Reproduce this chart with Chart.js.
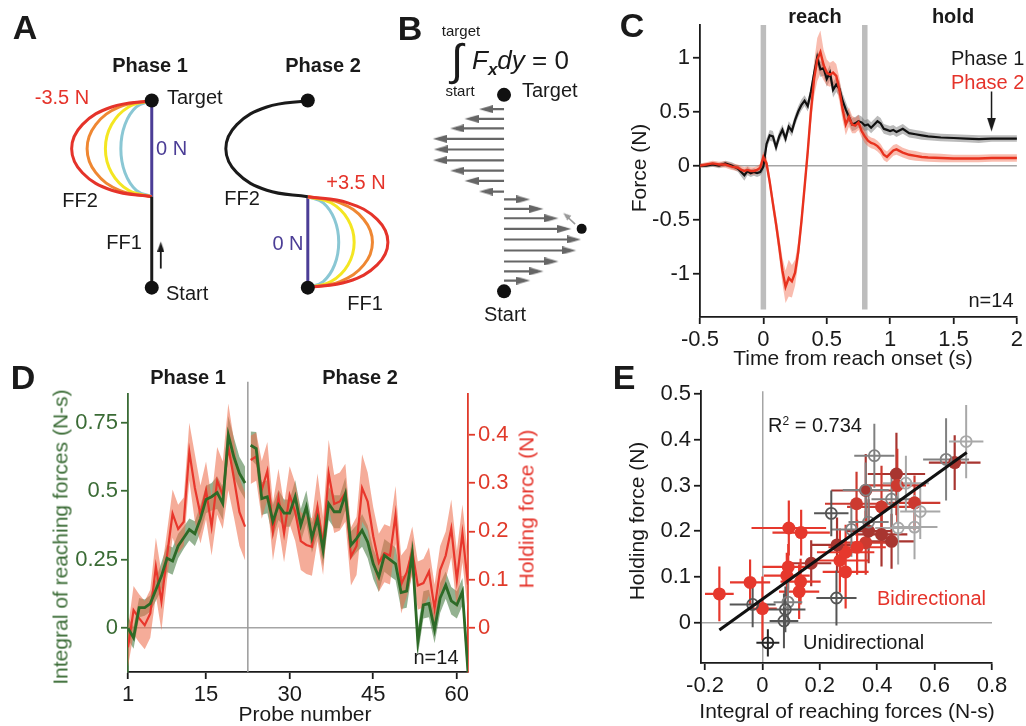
<!DOCTYPE html>
<html>
<head>
<meta charset="utf-8">
<title>Reaching and holding forces</title>
<script src="https://cdn.jsdelivr.net/npm/chart.js@4.4.1/dist/chart.umd.min.js"></script>
<style>
  body { margin: 0; background: #fff; }
  #figure { position: relative; width: 1026px; height: 726px; overflow: hidden; background: #fff;
    font-family: "Liberation Sans", Arial, sans-serif; color: #1a1a1a; }
  #figure canvas { position: absolute; }
  .txt { position: absolute; white-space: nowrap; font-size: 20px; line-height: 1; transform: translate(-50%, -50%); }
  .left { transform: translate(0, -50%); }
  .vert { transform: translate(-50%, -50%) rotate(-90deg); font-size: 21px; }
  .bold { font-weight: bold; }
  .panel { font-size: 34px; font-weight: bold; }
  .red { color: #e5332a; }
  .violet { color: #4b3d96; }
  .green { color: #3a6b35; }
</style>
</head>
<body>
<div id="figure">
  <canvas id="panelA" width="400" height="330" style="left:0;top:0"></canvas>
  <canvas id="panelB" width="220" height="330" style="left:380px;top:0"></canvas>
  <canvas id="panelC" width="426" height="370" style="left:600px;top:0"></canvas>
  <canvas id="panelD" width="500" height="351" style="left:40px;top:375px"></canvas>
  <canvas id="panelE" width="406" height="351" style="left:620px;top:375px"></canvas>

  <!-- panel letters -->
  <div class="txt panel" style="left:25px;top:27px">A</div>
  <div class="txt panel" style="left:410px;top:28px">B</div>
  <div class="txt panel" style="left:632px;top:25px">C</div>
  <div class="txt panel" style="left:23px;top:377px">D</div>
  <div class="txt panel" style="left:624px;top:377px">E</div>

  <!-- A -->
  <div class="txt bold" style="left:150px;top:65px">Phase 1</div>
  <div class="txt bold" style="left:323px;top:65px">Phase 2</div>
  <div class="txt red" style="left:62px;top:97px">-3.5 N</div>
  <div class="txt left" style="left:167px;top:97px">Target</div>
  <div class="txt left violet" style="left:156px;top:148px">0 N</div>
  <div class="txt" style="left:80px;top:200px">FF2</div>
  <div class="txt" style="left:124px;top:242px">FF1</div>
  <div class="txt left" style="left:166px;top:293px">Start</div>
  <div class="txt" style="left:242px;top:198px">FF2</div>
  <div class="txt red" style="left:356px;top:182px">+3.5 N</div>
  <div class="txt violet" style="left:288px;top:243px">0 N</div>
  <div class="txt" style="left:365px;top:303px">FF1</div>

  <!-- B -->
  <div class="txt" style="left:461px;top:30px;font-size:15px">target</div>
  <div class="txt" style="left:457px;top:60px;font-size:44px">&#8747;</div>
  <div class="txt left" style="left:472px;top:60px;font-size:26px"><i>F</i><i style="font-size:17px;font-weight:bold;position:relative;top:6px">x</i><i>dy</i> = 0</div>
  <div class="txt" style="left:460px;top:90px;font-size:15px">start</div>
  <div class="txt left" style="left:522px;top:90px">Target</div>
  <div class="txt" style="left:505px;top:314px">Start</div>

  <!-- C -->
  <div class="txt bold" style="left:815px;top:16px">reach</div>
  <div class="txt bold" style="left:953px;top:16px">hold</div>
  <div class="txt left" style="left:951px;top:58px">Phase 1</div>
  <div class="txt left red" style="left:951px;top:82px">Phase 2</div>
  <div class="txt" style="left:991px;top:300px">n=14</div>
  <div class="txt vert" style="left:638px;top:168px">Force (N)</div>
  <div class="txt" style="left:853px;top:357px;font-size:21px">Time from reach onset (s)</div>

  <!-- D -->
  <div class="txt bold" style="left:188px;top:377px">Phase 1</div>
  <div class="txt bold" style="left:360px;top:377px">Phase 2</div>
  <div class="txt vert green" style="left:60px;top:537px">Integral of reaching forces (N-s)</div>
  <div class="txt vert red" style="left:526px;top:509px">Holding force (N)</div>
  <div class="txt" style="left:436px;top:657px">n=14</div>
  <div class="txt" style="left:305px;top:713px;font-size:21px">Probe number</div>

  <!-- E -->
  <div class="txt vert" style="left:636px;top:521px">Holding force (N)</div>
  <div class="txt" style="left:847px;top:710px;font-size:21px">Integral of reaching forces (N-s)</div>
  <div class="txt left" style="left:768px;top:425px">R<sup style="font-size:12px">2</sup> = 0.734</div>
  <div class="txt left red" style="left:877px;top:598px">Bidirectional</div>
  <div class="txt left" style="left:803px;top:642px">Unidirectional</div>
</div>

<script>
// ── DATA ──────────────────────────────────────────────────────────────────────

// A: force-field schematic, units = start-to-target distance
const fieldBulge = [0, 0.164, 0.246, 0.343, 0.425];          // 0 N ... 3.5 N
const fieldColors = ["#4b3d96", "#8ac7d4", "#f4e622", "#ef8732", "#e5332a"];
const arcU = [0, 0.5, 0.866, 1, 0.866, 0.5, 0];
const arcV = [1, 0.933, 0.75, 0.5, 0.25, 0.067, 0];
const ffBoundary = 0.486;
const phase2Offset = 0.828;
const phase2LearnedBulge = 0.435;

// B: lateral force profile along the reach
const profileY = [0.927, 0.878, 0.829, 0.776, 0.722, 0.667, 0.614, 0.562, 0.508,
  0.468, 0.42, 0.372, 0.318, 0.264, 0.208, 0.152, 0.102, 0.055];
const profileFx = [-0.13, -0.205, -0.28, -0.37, -0.365, -0.37, -0.28, -0.205, -0.13,
  0.136, 0.205, 0.283, 0.35, 0.40, 0.375, 0.283, 0.205, 0.136];

// C: force traces
const timeC = [-0.5, -0.45, -0.4, -0.35, -0.3, -0.25, -0.2, -0.175, -0.15, -0.125, -0.1, -0.075, -0.05, -0.025,
  0, 0.025, 0.05, 0.075, 0.1, 0.125, 0.15, 0.175, 0.2, 0.225, 0.25, 0.275, 0.3, 0.325, 0.35, 0.375, 0.4, 0.425, 0.45, 0.475,
  0.5, 0.525, 0.55, 0.575, 0.6, 0.625, 0.65, 0.675, 0.7, 0.725, 0.75, 0.775, 0.8, 0.825, 0.85, 0.875, 0.9, 0.925, 0.95, 0.975,
  1, 1.025, 1.05, 1.1, 1.15, 1.2, 1.25, 1.3, 1.4, 1.5, 1.6, 1.7, 1.8, 1.9, 2];
const phase1Force = [0, 0, 0.01, 0, 0.02, 0, -0.03, -0.06, -0.09, -0.05, -0.07, -0.06, -0.07, -0.06,
  -0.01, 0.2, 0.28, 0.27, 0.17, 0.27, 0.33, 0.25, 0.36, 0.32, 0.42, 0.5, 0.56, 0.6, 0.55, 0.68, 0.85, 1.0, 0.89, 0.9,
  0.8, 0.86, 0.7, 0.75, 0.71, 0.6, 0.52, 0.45, 0.38, 0.39, 0.41, 0.4, 0.37, 0.38, 0.35, 0.38, 0.41, 0.39, 0.34, 0.33,
  0.32, 0.33, 0.31, 0.34, 0.3, 0.29, 0.28, 0.27, 0.26, 0.255, 0.25, 0.245, 0.25, 0.25, 0.25];
const phase1Sem = [0.02, 0.02, 0.02, 0.025, 0.025, 0.03, 0.03, 0.04, 0.05, 0.04, 0.035, 0.035, 0.035, 0.035,
  0.04, 0.05, 0.05, 0.05, 0.05, 0.05, 0.05, 0.05, 0.05, 0.05, 0.05, 0.05, 0.05, 0.05, 0.05, 0.06, 0.06, 0.07, 0.07, 0.07,
  0.07, 0.07, 0.07, 0.07, 0.07, 0.07, 0.07, 0.06, 0.06, 0.06, 0.06, 0.055, 0.05, 0.05, 0.05, 0.05, 0.05, 0.05, 0.045, 0.045,
  0.045, 0.045, 0.045, 0.045, 0.04, 0.04, 0.04, 0.035, 0.035, 0.035, 0.035, 0.035, 0.03, 0.03, 0.03];
const phase2Force = [0, 0.01, 0.02, 0.01, 0.01, -0.01, -0.02, -0.04, -0.05, -0.04, -0.05, -0.05, -0.04, -0.02,
  0.08, 0.02, -0.15, -0.35, -0.54, -0.75, -0.97, -1.12, -1.04, -1.07, -0.99, -0.8, -0.52, -0.2, 0.13, 0.5, 0.8, 0.98, 1.05, 0.93,
  0.86, 0.84, 0.86, 0.83, 0.7, 0.52, 0.38, 0.45, 0.38, 0.37, 0.4, 0.32, 0.27, 0.23, 0.21, 0.2, 0.18, 0.15, 0.1, 0.08,
  0.11, 0.14, 0.15, 0.12, 0.1, 0.09, 0.08, 0.075, 0.07, 0.065, 0.065, 0.065, 0.07, 0.07, 0.07];
const phase2Sem = [0.02, 0.02, 0.025, 0.025, 0.03, 0.03, 0.03, 0.035, 0.035, 0.035, 0.035, 0.035, 0.035, 0.04,
  0.05, 0.06, 0.06, 0.07, 0.08, 0.1, 0.12, 0.15, 0.17, 0.15, 0.12, 0.1, 0.09, 0.09, 0.1, 0.12, 0.16, 0.2, 0.2, 0.14,
  0.12, 0.11, 0.11, 0.11, 0.11, 0.1, 0.1, 0.09, 0.08, 0.07, 0.07, 0.06, 0.06, 0.05, 0.05, 0.05, 0.05, 0.05, 0.05, 0.05,
  0.05, 0.05, 0.05, 0.045, 0.045, 0.045, 0.04, 0.04, 0.04, 0.035, 0.035, 0.035, 0.035, 0.035, 0.035];
const reachEpoch = [0, 0.8];
const xTicksC = [-0.5, 0, 0.5, 1, 1.5, 2];
const yTicksC = [-1, -0.5, 0, 0.5, 1];

// D: per-probe integral of reaching force and holding force
const probeNumbers = Array.from({ length: 62 }, (_, i) => i + 1);
const phaseBreak = 22.5;
const reachIntegral = [0.0, -0.035, 0.075, 0.075, 0.09, 0.14, 0.19, 0.255, 0.245, 0.30, 0.33, 0.36, 0.345, 0.40, 0.47, 0.48, 0.495, 0.455, 0.705, 0.625, 0.565, 0.53,
  0.668, 0.656, 0.473, 0.48, 0.39, 0.45, 0.42, 0.42, 0.48, 0.376, 0.443, 0.33, 0.40, 0.285, 0.455, 0.425, 0.425, 0.49, 0.303, 0.327, 0.357, 0.315, 0.235, 0.187,
  0.266, 0.25, 0.235, 0.13, 0.135, 0.272, -0.05, 0.085, 0.09, -0.005, 0.11, 0.157, 0.1, 0.085, 0.133, -0.16];
const reachIntegralSem = [0.04, 0.04, 0.035, 0.03, 0.03, 0.04, 0.05, 0.05, 0.05, 0.045, 0.04, 0.04, 0.045, 0.05, 0.05, 0.05, 0.06, 0.06, 0.07, 0.07, 0.06, 0.06,
  0.05, 0.06, 0.06, 0.06, 0.06, 0.055, 0.05, 0.05, 0.06, 0.06, 0.06, 0.055, 0.06, 0.06, 0.06, 0.06, 0.06, 0.06, 0.05, 0.05, 0.06, 0.06, 0.055, 0.055,
  0.06, 0.06, 0.06, 0.06, 0.06, 0.06, 0.05, 0.05, 0.05, 0.05, 0.055, 0.05, 0.05, 0.05, 0.05, 0.05];
const holdingForce = [-0.04, 0.037, 0.02, 0.006, 0.03, 0.127, 0.055, 0.15, 0.237, 0.205, 0.22, 0.365, 0.29, 0.235, 0.285, 0.21, 0.305, 0.275, 0.375, 0.31, 0.24, 0.21,
  0.348, 0.355, 0.286, 0.325, 0.2, 0.27, 0.196, 0.275, 0.24, 0.18, 0.172, 0.168, 0.25, 0.17, 0.32, 0.257, 0.262, 0.28, 0.148, 0.17, 0.29, 0.262, 0.19, 0.135,
  0.155, 0.15, 0.234, 0.09, 0.115, 0.16, 0.088, 0.093, 0.117, 0.04, 0.12, 0.15, 0.206, 0.1, 0.196, 0.09];
const holdingForceSem = [0.04, 0.05, 0.05, 0.05, 0.05, 0.06, 0.06, 0.05, 0.05, 0.05, 0.05, 0.06, 0.07, 0.06, 0.06, 0.06, 0.07, 0.07, 0.09, 0.08, 0.07, 0.07,
  0.05, 0.05, 0.06, 0.06, 0.06, 0.06, 0.06, 0.06, 0.06, 0.06, 0.06, 0.06, 0.07, 0.06, 0.07, 0.06, 0.06, 0.06, 0.06, 0.06, 0.07, 0.06, 0.06, 0.06,
  0.06, 0.06, 0.06, 0.06, 0.05, 0.05, 0.05, 0.05, 0.05, 0.05, 0.05, 0.05, 0.06, 0.06, 0.06, 0.06];
const xTicksD = [1, 15, 30, 45, 60];
const yTicksReach = [0, 0.25, 0.5, 0.75];
const yTicksHold = [0, 0.1, 0.2, 0.3, 0.4];

// E: per-subject scatter with SEM bars
const bidirX = [-0.15, -0.043, 0.0, 0.092, 0.135, 0.09, 0.085, 0.133, 0.128, 0.27, 0.29, 0.29, 0.328, 0.36, 0.415, 0.415, 0.45, 0.467, 0.47, 0.67, 0.36, 0.33, 0.26, 0.37, 0.53, 0.17];
const bidirY = [0.063, 0.088, 0.031, 0.207, 0.197, 0.122, 0.103, 0.09, 0.068, 0.136, 0.154, 0.111, 0.26, 0.289, 0.253, 0.193, 0.178, 0.325, 0.3, 0.35, 0.175, 0.165, 0.17, 0.2, 0.262, 0.13];
const bidirXErr = [0.05, 0.07, 0.05, 0.13, 0.1, 0.09, 0.08, 0.07, 0.07, 0.1, 0.1, 0.08, 0.11, 0.12, 0.12, 0.09, 0.08, 0.1, 0.1, 0.09, 0.1, 0.1, 0.09, 0.08, 0.09, 0.07];
const bidirYErr = [0.06, 0.05, 0.07, 0.06, 0.05, 0.05, 0.05, 0.05, 0.06, 0.07, 0.06, 0.08, 0.07, 0.08, 0.09, 0.07, 0.06, 0.09, 0.08, 0.06, 0.07, 0.06, 0.06, 0.07, 0.06, 0.05];
const bidirShade = [0, 0, 0, 0, 0, 0, 0, 0, 0, 0, 0, 0, 1, 2, 1, 2, 2, 2, 1, 2, 1, 0, 2, 2, 1, 2];
const unidirX = [0.39, 0.71, 0.64, 0.50, 0.55, 0.53, 0.473, 0.24, 0.31, 0.36, 0.45, 0.258, -0.034, 0.089, 0.08, 0.075, 0.019, 0.37];
const unidirY = [0.365, 0.396, 0.357, 0.305, 0.243, 0.209, 0.207, 0.239, 0.204, 0.29, 0.27, 0.054, 0.04, 0.045, 0.029, 0.004, -0.044, 0.22];
const unidirXErr = [0.07, 0.06, 0.08, 0.08, 0.07, 0.08, 0.08, 0.06, 0.07, 0.08, 0.07, 0.07, 0.08, 0.05, 0.07, 0.05, 0.04, 0.07];
const unidirYErr = [0.07, 0.08, 0.09, 0.06, 0.06, 0.07, 0.08, 0.05, 0.06, 0.06, 0.06, 0.06, 0.05, 0.05, 0.05, 0.06, 0.03, 0.06];
const unidirShade = [2, 3, 2, 3, 3, 3, 3, 1, 2, 2, 2, 1, 1, 2, 1, 1, 0, 2];
const fitX = [-0.15, 0.712];
const fitY = [-0.016, 0.372];
const xTicksE = [-0.2, 0, 0.2, 0.4, 0.6, 0.8];
const yTicksE = [0, 0.1, 0.2, 0.3, 0.4, 0.5];

// ── COMMON ────────────────────────────────────────────────────────────────────

const INK = "#1a1a1a";
const RED = "#e5332a";
const GREEN_AXIS = "#3a6b35";
const RED_AXIS = "#e03a2a";

Chart.defaults.font.family = '"Liberation Sans", Arial, sans-serif';
Chart.defaults.font.size = 22;
Chart.defaults.color = INK;
Chart.defaults.animation = false;
Chart.defaults.events = [];
Chart.defaults.plugins.legend.display = false;
Chart.defaults.plugins.tooltip.enabled = false;
Chart.defaults.elements.point.radius = 0;

function arrowHead(len, wid, color) {
  // sprite with the tip at its centre, pointing right
  const c = document.createElement("canvas");
  c.width = len * 2;
  c.height = wid;
  const g = c.getContext("2d");
  g.fillStyle = color;
  g.beginPath();
  g.moveTo(0, 0);
  g.lineTo(len, wid / 2);
  g.lineTo(0, wid);
  g.closePath();
  g.fill();
  return c;
}

function axis(o) {
  const color = o.color || INK;
  return {
    type: "linear",
    position: o.position,
    min: o.min,
    max: o.max,
    afterBuildTicks: s => { s.ticks = o.ticks.map(v => ({ value: v })); },
    afterFit: s => {
      if (o.width != null) s.width = o.width;
      if (o.height != null) s.height = o.height;
    },
    border: { display: true, color, width: 1.8 },
    grid: {
      drawOnChartArea: !!o.zeroLine,
      color: c => (o.zeroLine && c.tick && c.tick.value === 0) ? "#a5a5a5" : "rgba(0,0,0,0)",
      lineWidth: 1.5,
      tickColor: color,
      tickLength: 7,
      tickWidth: 1.8
    },
    ticks: { color, padding: 3, maxRotation: 0, autoSkip: false, callback: v => String(v) }
  };
}

function hiddenAxis(min, max) {
  return { type: "linear", display: false, min, max };
}

function line(data, color, width, extra) {
  return Object.assign({
    type: "line", data, borderColor: color, borderWidth: width,
    pointRadius: 0, fill: false, tension: 0, spanGaps: false
  }, extra || {});
}

function makeChart(id, datasets, scales, padding) {
  return new Chart(document.getElementById(id), {
    type: "line",
    data: { datasets },
    options: {
      responsive: false,
      layout: { padding: Object.assign({ top: 0, right: 0, bottom: 0, left: 0 }, padding || {}) },
      scales
    }
  });
}

// ── A: FORCE FIELDS ───────────────────────────────────────────────────────────

function arc(x0, dir, bulge, yLow, yHigh) {
  return arcU.map((u, i) => ({ x: x0 + dir * bulge * u, y: yLow + (yHigh - yLow) * arcV[i] }));
}

(function panelA() {
  const sets = [];
  fieldBulge.forEach((b, k) => {
    sets.push(line(arc(0, -1, b, ffBoundary, 1), fieldColors[k], 3, { tension: 0.4, order: 20 - k }));
    sets.push(line(arc(phase2Offset, 1, b, 0, ffBoundary), fieldColors[k], 3, { tension: 0.4, order: 20 - k }));
  });
  sets.push(line([{ x: 0, y: 0 }, { x: 0, y: ffBoundary }], INK, 3, { order: 5 }));
  sets.push(line(arc(phase2Offset, -1, phase2LearnedBulge, ffBoundary, 1), INK, 3, { tension: 0.4, order: 5 }));
  // movement direction arrow
  sets.push(line([{ x: 0.048, y: 0.102 }, { x: 0.048, y: 0.22 }], INK, 1.8, { order: 4 }));
  sets.push(line([{ x: 0.048, y: 0.246 }], INK, 0, {
    showLine: false, pointRadius: 5, pointStyle: arrowHead(10, 7, INK), pointRotation: -90, order: 4
  }));
  // start and target
  sets.push(line([{ x: 0, y: 0 }, { x: 0, y: 1 }, { x: phase2Offset, y: 0 }, { x: phase2Offset, y: 1 }], INK, 0, {
    showLine: false, pointRadius: 7, pointBackgroundColor: "#111", pointBorderWidth: 0, order: 1
  }));
  makeChart("panelA", sets, { x: hiddenAxis(-0.768, 1.28), y: hiddenAxis(-0.189, 1.5) });
})();

// ── B: FORCE PROFILE ──────────────────────────────────────────────────────────

(function panelB() {
  const gray = "#666666";
  const shafts = profileY.flatMap((y, i) => [
    { x: 0, y }, { x: profileFx[i] - Math.sign(profileFx[i]) * 0.03, y }, { x: 0, y: null }
  ]);
  const heads = profileY.map((y, i) => ({ x: profileFx[i], y }));
  const sets = [
    line(shafts, gray, 2.2, { order: 5 }),
    line(heads, gray, 0, {
      showLine: false, pointRadius: 6, pointStyle: arrowHead(14, 8, gray),
      pointRotation: profileFx.map(f => (f < 0 ? 180 : 0)), order: 4
    }),
    line([{ x: 0.37, y: 0.342 }, { x: 0.32, y: 0.388 }], "#9a9a9a", 1.5, { order: 3 }),
    line([{ x: 0.308, y: 0.399 }], "#9a9a9a", 0, {
      showLine: false, pointRadius: 5, pointStyle: arrowHead(8, 6, "#9a9a9a"), pointRotation: -140, order: 3
    }),
    line([{ x: 0, y: 1 }, { x: 0, y: 0 }, { x: 0.404, y: 0.318 }], INK, 0, {
      showLine: false, pointRadius: [7, 7, 5], pointBackgroundColor: "#111", pointBorderWidth: 0, order: 1
    })
  ];
  makeChart("panelB", sets, { x: hiddenAxis(-0.609, 0.463), y: hiddenAxis(-0.161, 1.447) });
})();

// ── C: FORCE TRACES ───────────────────────────────────────────────────────────

(function panelC() {
  const pts = (vals, sem, sign) => timeC.map((t, i) => ({ x: t, y: vals[i] + sign * sem[i] }));
  const bars = reachEpoch.flatMap(t => [{ x: t, y: -1.33 }, { x: t, y: 1.3 }, { x: t, y: null }]);
  const sets = [
    line(bars, "#bdbdbd", 5.5, { order: 30 }),
    line(pts(phase1Force, phase1Sem, 1), "rgba(0,0,0,0)", 0, { fill: "+1", backgroundColor: "rgba(105,105,105,0.45)", order: 20 }),
    line(pts(phase1Force, phase1Sem, -1), "rgba(0,0,0,0)", 0, { order: 20 }),
    line(pts(phase2Force, phase2Sem, 1), "rgba(0,0,0,0)", 0, { fill: "+1", backgroundColor: "rgba(240,95,65,0.42)", order: 18 }),
    line(pts(phase2Force, phase2Sem, -1), "rgba(0,0,0,0)", 0, { order: 18 }),
    line(pts(phase1Force, phase1Sem, 0), "#111", 2.2, { order: 6 }),
    line(pts(phase2Force, phase2Sem, 0), "#e8321e", 2.4, { order: 5 }),
    // arrow pointing at the hold level
    line([{ x: 1.8, y: 0.685 }, { x: 1.8, y: 0.36 }], INK, 1.5, { order: 2, clip: false }),
    line([{ x: 1.8, y: 0.315 }], INK, 0, {
      showLine: false, pointRadius: 6, pointStyle: arrowHead(14, 9, INK), pointRotation: 90, order: 2
    })
  ];
  makeChart("panelC", sets, {
    x: axis({ position: "bottom", min: -0.5, max: 2, ticks: xTicksC, height: 53 }),
    y: axis({ position: "left", min: -1.4, max: 1.3, ticks: yTicksC, width: 100, zeroLine: true })
  }, { top: 25, right: 9 });
})();

// ── D: PROBE TRIALS ───────────────────────────────────────────────────────────

(function panelD() {
  function series(vals, sem, sign) {
    const out = [];
    probeNumbers.forEach((p, i) => {
      if (i > 0 && probeNumbers[i - 1] < phaseBreak && p > phaseBreak) out.push({ x: phaseBreak, y: null });
      out.push({ x: p, y: vals[i] + sign * sem[i] });
    });
    return out;
  }
  const sets = [
    line([{ x: phaseBreak, y: -0.16 }, { x: phaseBreak, y: 0.9 }], "#9a9a9a", 1.5, { yAxisID: "yL", clip: false, order: 40 }),
    line(series(reachIntegral, reachIntegralSem, 1), "rgba(0,0,0,0)", 0, { yAxisID: "yL", fill: "+1", backgroundColor: "rgba(60,115,55,0.55)", order: 30 }),
    line(series(reachIntegral, reachIntegralSem, -1), "rgba(0,0,0,0)", 0, { yAxisID: "yL", order: 30 }),
    line(series(holdingForce, holdingForceSem, 1), "rgba(0,0,0,0)", 0, { yAxisID: "yR", fill: "+1", backgroundColor: "rgba(238,112,80,0.58)", order: 25 }),
    line(series(holdingForce, holdingForceSem, -1), "rgba(0,0,0,0)", 0, { yAxisID: "yR", order: 25 }),
    line(series(holdingForce, holdingForceSem, 0), "#e8372c", 2.2, { yAxisID: "yR", order: 6 }),
    line(series(reachIntegral, reachIntegralSem, 0), "#2d6a27", 2.8, { yAxisID: "yL", order: 5 })
  ];
  makeChart("panelD", sets, {
    x: axis({ position: "bottom", min: 1, max: 62, ticks: xTicksD, height: 54 }),
    yL: axis({ position: "left", min: -0.16, max: 0.855, ticks: yTicksReach, width: 88, color: GREEN_AXIS, zeroLine: true }),
    yR: axis({ position: "right", min: -0.091, max: 0.4845, ticks: yTicksHold, width: 72, color: RED_AXIS })
  }, { top: 19 });
})();

// ── E: REACH VS HOLD ──────────────────────────────────────────────────────────

(function panelE() {
  const redShades = ["#e6382d", "#cc3a30", "#a83530"];
  const grayShades = ["#262626", "#555555", "#808080", "#a8a8a8"];

  function errorBars(xs, ys, ex, ey, shade, k) {
    const out = [];
    xs.forEach((x, i) => {
      if (shade[i] !== k) return;
      out.push({ x: x - ex[i], y: ys[i] }, { x: x + ex[i], y: ys[i] }, { x, y: null });
      out.push({ x, y: ys[i] - ey[i] }, { x, y: ys[i] + ey[i] }, { x, y: null });
    });
    return out;
  }

  const sets = [];
  redShades.forEach((c, k) => sets.push(line(errorBars(bidirX, bidirY, bidirXErr, bidirYErr, bidirShade, k), c, 2.2, { order: 40 })));
  grayShades.forEach((c, k) => sets.push(line(errorBars(unidirX, unidirY, unidirXErr, unidirYErr, unidirShade, k), c, 2, { order: 38 })));
  sets.push(line(bidirX.map((x, i) => ({ x, y: bidirY[i] })), RED, 0, {
    showLine: false, pointRadius: 6.5, pointBorderWidth: 0,
    pointBackgroundColor: bidirShade.map(s => redShades[s]), order: 30
  }));
  sets.push(line(unidirX.map((x, i) => ({ x, y: unidirY[i] })), INK, 0, {
    showLine: false, pointRadius: 5.5, pointBorderWidth: 1.8, pointBackgroundColor: "rgba(0,0,0,0)",
    pointBorderColor: unidirShade.map(s => grayShades[s]), order: 28
  }));
  sets.push(line(fitX.map((x, i) => ({ x, y: fitY[i] })), "#111", 3, { order: 1 }));

  makeChart("panelE", sets, {
    x: axis({ position: "bottom", min: -0.214, max: 0.8, ticks: xTicksE, height: 63, zeroLine: true }),
    y: axis({ position: "left", min: -0.088, max: 0.506, ticks: yTicksE, width: 81, zeroLine: true })
  }, { top: 10, right: 34 });
})();
</script>
</body>
</html>
